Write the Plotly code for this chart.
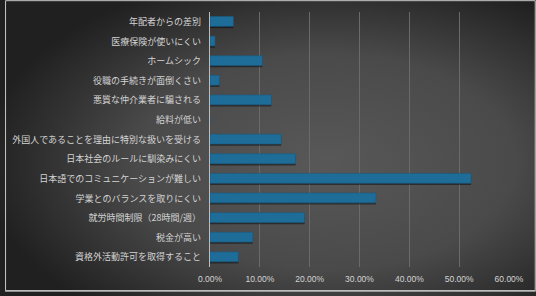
import plotly.graph_objects as go
import base64

categories = [
    "年配者からの差別",
    "医療保険が使いにくい",
    "ホームシック",
    "役職の手続きが面倒くさい",
    "悪質な仲介業者に騙される",
    "給料が低い",
    "外国人であることを理由に特別な扱いを受ける",
    "日本社会のルールに馴染みにくい",
    "日本語でのコミュニケーションが難しい",
    "学業とのバランスを取りにくい",
    "就労時間制限（28時間/週）",
    "税金が高い",
    "資格外活動許可を取得すること",
]
values = [0.047, 0.010, 0.105, 0.019, 0.123, 0.0, 0.143, 0.172, 0.524, 0.333, 0.190, 0.086, 0.057]
tick_vals = [0, 0.1, 0.2, 0.3, 0.4, 0.5, 0.6]
tick_text = ["0.00%", "10.00%", "20.00%", "30.00%", "40.00%", "50.00%", "60.00%"]

W, H = 536, 296
ml, mr, mt, mb = 207, 27, 12, 25
pw, ph = W - ml - mr, H - mt - mb

svg = f'''<svg xmlns="http://www.w3.org/2000/svg" width="{W}" height="{H}" viewBox="0 0 {W} {H}" preserveAspectRatio="none">
<defs><radialGradient id="g" cx="0.6" cy="0.55" r="0.62" fx="0.6" fy="0.55">
<stop offset="0" stop-color="#585858"/><stop offset="0.55" stop-color="#4a4a4a"/><stop offset="1" stop-color="#202020"/>
</radialGradient></defs>
<rect x="0" y="0" width="{W}" height="{H}" fill="url(#g)"/>
</svg>'''
src = "data:image/svg+xml;base64," + base64.b64encode(svg.encode()).decode()

def px_x(p):
    return (p - ml) / pw

def px_y(p):
    return 1 - (p - mt) / ph

fig = go.Figure()
# subtle shadow
fig.add_trace(go.Bar(
    y=categories, x=values, orientation="h",
    marker=dict(color="rgba(0,0,0,0.45)", line=dict(width=0)),
    width=0.5, offset=-0.18, hoverinfo="skip", showlegend=False,
))
fig.add_trace(go.Bar(
    y=categories, x=values, orientation="h",
    marker=dict(color="#1e6d99", line=dict(color="#195b82", width=0.6)),
    width=0.5, offset=-0.27, showlegend=False,
))

pad = 12
fig.update_layout(
    width=W, height=H,
    margin=dict(l=ml, r=mr, t=mt, b=mb),
    paper_bgcolor="#2a2a2a",
    plot_bgcolor="rgba(0,0,0,0)",
    barmode="overlay",
    images=[dict(
        source=src, xref="paper", yref="paper",
        x=px_x(-pad), y=px_y(-pad), sizex=(W + 2 * pad) / pw, sizey=(H + 2 * pad) / ph,
        xanchor="left", yanchor="top", sizing="stretch", layer="below",
    )],
    shapes=[
        dict(type="rect", xref="paper", yref="paper", layer="above",
             x0=px_x(0.5), x1=px_x(W - 0.5), y0=px_y(0.5), y1=px_y(H - 1),
             line=dict(color="#c8c8c8", width=1), fillcolor="rgba(0,0,0,0)"),
        dict(type="line", xref="paper", yref="paper", layer="above",
             x0=px_x(0), x1=px_x(W), y0=px_y(H - 0.5), y1=px_y(H - 0.5),
             line=dict(color="#c8c8c8", width=1)),
    ],
    xaxis=dict(
        range=[0, 0.6], tickvals=tick_vals, ticktext=tick_text,
        showgrid=True, gridcolor="#6a6a6a", gridwidth=1,
        zeroline=False, showline=False, ticks="", ticklabelstandoff=5,
        tickfont=dict(family="Liberation Sans, Arial", size=8.5, color="#d4d4d4"),
        fixedrange=True,
    ),
    yaxis=dict(
        categoryorder="array", categoryarray=categories, autorange="reversed",
        showgrid=False, zeroline=False, showline=True, linecolor="#bdbdbd", linewidth=1.2,
        ticks="", ticklabelstandoff=6,
        tickfont=dict(family="Noto Sans CJK JP", size=9, color="#d4d4d4"),
        fixedrange=True,
    ),
    font=dict(family="Noto Sans CJK JP"),
)

fig.write_html("out.html")
